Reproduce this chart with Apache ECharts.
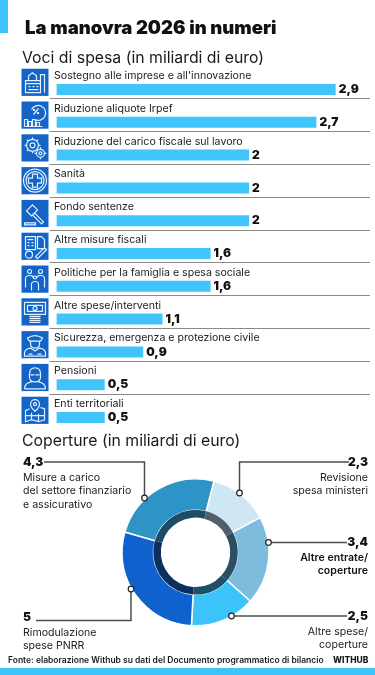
<!DOCTYPE html>
<html>
<head>
<meta charset="utf-8">
<title>La manovra 2026 in numeri</title>
<style>
  html, body { margin: 0; padding: 0; background: #fff; }
  #main { width: 375px; height: 675px; }
</style>
<script src="https://cdn.jsdelivr.net/npm/echarts@6/dist/echarts.min.js"></script>
</head>
<body>
<div id="main"></div>
<script>
// voci di spesa
var categories = [
    "Sostegno alle imprese e all'innovazione",
    'Riduzione aliquote Irpef',
    'Riduzione del carico fiscale sul lavoro',
    'Sanità',
    'Fondo sentenze',
    'Altre misure fiscali',
    'Politiche per la famiglia e spesa sociale',
    'Altre spese/interventi',
    'Sicurezza, emergenza e protezione civile',
    'Pensioni',
    'Enti territoriali'
];
var spesa = [2.9, 2.7, 2, 2, 2, 1.6, 1.6, 1.1, 0.9, 0.5, 0.5];

// coperture, in senso orario dall'alto
var copertureNomi = [
    ['Revisione', 'spesa ministeri'],
    ['Altre entrate/', 'coperture'],
    ['Altre spese/', 'coperture'],
    ['Rimodulazione', 'spese PNRR'],
    ['Misure a carico', 'del settore finanziario', 'e assicurativo']
];
var coperture = [2.3, 3.4, 2.5, 5, 4.3];
var copertureColori = ['#cfe6f3', '#7dbcdd', '#3cc4fa', '#0f62ce', '#2e93c6'];
var anelloColori = ['#50606a', '#2c4e62', '#1c5068', '#0c2f60', '#1c4c68'];

// posizione delle etichette della ciambella
var etichette = [
    { x: 368, y: 453, align: 'right' },
    { x: 368, y: 533, align: 'right' },
    { x: 368, y: 607, align: 'right' },
    { x: 23, y: 608, align: 'left' },
    { x: 23, y: 453, align: 'left' }
];
// linee di richiamo
var richiami = [
    [[349, 462], [239.5, 462], [239.5, 493]],
    [[347, 542.5], [268.5, 542.5]],
    [[347, 616], [231.5, 616]],
    [[36, 620.5], [131, 620.5], [131, 589]],
    [[44, 462], [144.5, 462], [144.5, 498]]
];

// icone, disegnate in un quadrato 27x27
var icone = [
    'M4 24V12h15v12zM4 15h15M7 12V7l4-3 4 3v5M19 24V6h4v18M7 18h2M11 18h2M15 18h2M7 21h10',
    'M10 8a7.500 7.500 0 1 1 3 10M12 13l5-6M12 8h1v1h-1zM16 11h1v1h-1zM3 25v-7h3v7M7 25v-5h3v5M11 25v-7h3v7M15 25v-4h3v4M3 25h18',
    'M17 11a6 6 0 1 1-12 0a6 6 0 1 1 12 0zM13.500 11a2.500 2.500 0 1 1-5 0a2.500 2.500 0 1 1 5 0zM11 3v2M11 17v2M3 11h2M17 11h2M5.300 5.300l1.400 1.400M16.700 5.300l-1.400 1.400M5.300 16.700l1.400-1.400M23 19a4 4 0 1 1-8 0a4 4 0 1 1 8 0zM20.500 19a1.500 1.500 0 1 1-3 0a1.500 1.500 0 1 1 3 0zM19 13v2M19 23v2M13 19h2M23 19h2',
    'M25 13.500a11.500 11.500 0 1 1-23 0a11.500 11.500 0 1 1 23 0zM22.500 13.500a9 9 0 1 1-18 0a9 9 0 1 1 18 0zM11 7h5v4h4v5h-4v4h-5v-4H7v-5h4z',
    'M5 11l6-6 5 5-6 6zM13 13l9 9-2 2-9-9M3 25h11v-2H3z',
    'M4 4h10v13H4zM6 7h6M6 10h2M10 10h2M6 13h2M10 13h2M16 4h4l3 3v9h-7zM11 22a3.500 3.500 0 1 1-7 0a3.500 3.500 0 1 1 7 0zM14 24l9-9 2 2-9 9z',
    'M10 6a2 2 0 1 1-4 0a2 2 0 1 1 4 0zM21 6a2 2 0 1 1-4 0a2 2 0 1 1 4 0zM15 12a1.500 1.500 0 1 1-3 0a1.500 1.500 0 1 1 3 0zM4 22v-9q0-3 4-3t3 2M23 22v-9q0-3-4-3t-3 2M10 25v-6q0-3 3.500-3t3.500 3v6',
    'M3 4h21v12H3zM6 7h15v6H6zM15.500 10a2 2 0 1 1-4 0a2 2 0 1 1 4 0zM8 18h11M8 20h11M8 22h11M8 24h11',
    'M6 7q7.500-5 15 0l-2 3H8zM9 10v3q0 4 4.500 4t4.500-4v-3M3 25v-3q0-4 6-5l4.500 3 4.500-3q6 1 6 5v3zM7 23h4M16 23h4',
    'M8 10q0-6 5.500-6t5.500 6v3q0 5-5.500 5t-5.500-5zM9 11h4M14 11h4M3 25q0-6 7-7M24 25q0-6-7-7M3 25h21',
    'M13.500 3a4.500 4.500 0 0 1 4.500 4.500q0 3-4.500 7-4.500-4-4.500-7a4.500 4.500 0 0 1 4.500-4.500zM15 7.500a1.500 1.500 0 1 1-3 0a1.500 1.500 0 1 1 3 0zM8 12l-4 2v11l6-2 7 2 6-2V12l-4-1M10 23v-7M17 25v-8M4 19h19'
];

var FONT = 'Inter';

function virgola(v) {
    return String(v).replace('.', ',');
}

var myChart = echarts.init(document.getElementById('main'));

// elementi grafici: fasce azzurre e richiami
var grafica = [
    { type: 'rect', shape: { x: 0, y: 0, width: 8, height: 33 }, style: { fill: '#3cc4fa' } },
    { type: 'rect', shape: { x: 0, y: 668, width: 375, height: 7 }, style: { fill: '#3cc4fa' } }
];
richiami.forEach(function (punti) {
    grafica.push({
        type: 'polyline', z: 100, shape: { points: punti },
        style: { fill: 'none', stroke: '#4a4f52', lineWidth: 1.5 }
    });
    var fine = punti[punti.length - 1];
    grafica.push({
        type: 'circle', z: 101, shape: { cx: fine[0], cy: fine[1], r: 2.8 },
        style: { fill: '#fff', stroke: '#222', lineWidth: 1.2 }
    });
});

var option = {
    backgroundColor: '#fff',
    animation: false,
    title: [
        { text: 'La manovra 2026 in numeri', left: 25, top: 19, padding: 0, textStyle: { fontFamily: FONT, fontSize: 18.500, fontWeight: 900, color: '#111' } },
        { text: 'Voci di spesa (in miliardi di euro)', left: 22, top: 50, padding: 0, textStyle: { fontFamily: FONT, fontSize: 15.800, fontWeight: 400, color: '#1a1a1a' } },
        { text: 'Coperture (in miliardi di euro)', left: 22, top: 433, padding: 0, textStyle: { fontFamily: FONT, fontSize: 15.800, fontWeight: 400, color: '#1a1a1a' } },
        { text: 'Fonte: elaborazione Withub su dati del Documento programmatico di bilancio', left: 8, top: 656, padding: 0, textStyle: { fontFamily: FONT, fontSize: 8.500, fontWeight: 600, color: '#1a1a1a' } },
        { text: 'WITHUB', left: 333, top: 656, padding: 0, textStyle: { fontFamily: FONT, fontSize: 8.500, fontWeight: 800, color: '#1a1a1a' } }
    ],
    tooltip: { show: false },
    grid: { left: 49.6, right: 5, top: 65.9, height: 360.8 },
    xAxis: { type: 'value', min: -0.073, max: 3.257, show: false },
    yAxis: {
        type: 'category',
        inverse: true,
        data: categories,
        axisLine: { show: false },
        axisTick: { show: false },
        axisLabel: {
            inside: true,
            margin: 4.4,
            align: 'left',
            verticalAlign: 'bottom',
            lineHeight: 13,
            fontFamily: FONT,
            fontSize: 10.600,
            color: '#222'
        },
        splitLine: {
            show: true,
            interval: 0,
            showMinLine: false,
            showMaxLine: false,
            lineStyle: { color: '#8a8a8a', width: 1 }
        }
    },
    series: [
        // serie vuota: sposta la barra sotto l'etichetta
        { type: 'bar', data: categories.map(function () { return 0; }), barWidth: 11, barGap: '31%', itemStyle: { color: 'transparent' }, silent: true },
        {
            name: 'Voci di spesa',
            type: 'bar',
            data: spesa,
            barWidth: 11,
            itemStyle: { color: '#40c4fc' },
            label: {
                show: true,
                position: 'right',
                distance: 3,
                formatter: function (p) { return virgola(p.value); },
                fontFamily: FONT,
                fontSize: 12,
                fontWeight: 900,
                color: '#111'
            }
        },
        {
            // icone delle voci
            type: 'custom',
            silent: true,
            clip: false,
            data: categories.map(function (c, i) { return [0, i]; }),
            renderItem: function (params, api) {
                var y = api.coord([0, api.value(1)])[1];
                return {
                    type: 'group',
                    x: 21.5,
                    y: y - 13.6,
                    children: [
                        { type: 'rect', shape: { x: 0, y: 0, width: 27, height: 27.2 }, style: { fill: '#1464c8' } },
                        { type: 'path', shape: { pathData: icone[params.dataIndex] }, style: { fill: 'none', stroke: '#dff1ff', lineWidth: 1.2 } }
                    ]
                };
            }
        },
        {
            name: 'Coperture',
            type: 'pie',
            center: [195.5, 552.3],
            radius: [42, 73.5],
            startAngle: 75.5,
            avoidLabelOverlap: false,
            silent: true,
            data: coperture.map(function (v, i) {
                return { value: v, name: copertureNomi[i].join(' '), itemStyle: { color: copertureColori[i] } };
            }),
            itemStyle: { borderColor: '#fff', borderWidth: 1.5 },
            label: {
                show: true,
                formatter: function (p) {
                    var stile = p.dataIndex === 1 ? 'b' : 'n';
                    var righe = copertureNomi[p.dataIndex].map(function (r) { return '{' + stile + '|' + r + '}'; });
                    return '{v|' + virgola(p.value) + '}\n' + righe.join('\n');
                },
                rich: {
                    v: { fontFamily: FONT, fontSize: 12, fontWeight: 900, color: '#111', lineHeight: 18 },
                    n: { fontFamily: FONT, fontSize: 10.600, color: '#222', lineHeight: 13.500 },
                    b: { fontFamily: FONT, fontSize: 10.600, fontWeight: 600, color: '#111', lineHeight: 13.500 }
                }
            },
            labelLine: { show: false },
            labelLayout: function (p) {
                var e = etichette[p.dataIndex];
                return { x: e.x, y: e.y, align: e.align, verticalAlign: 'top' };
            }
        },
        {
            // anello scuro interno
            type: 'pie',
            center: [195.5, 552.3],
            radius: [34.7, 42.3],
            startAngle: 75.5,
            silent: true,
            label: { show: false },
            labelLine: { show: false },
            data: coperture.map(function (v, i) {
                return { value: v, itemStyle: { color: anelloColori[i] } };
            })
        }
    ],
    graphic: grafica
};
myChart.setOption(option);
</script>
</body>
</html>
